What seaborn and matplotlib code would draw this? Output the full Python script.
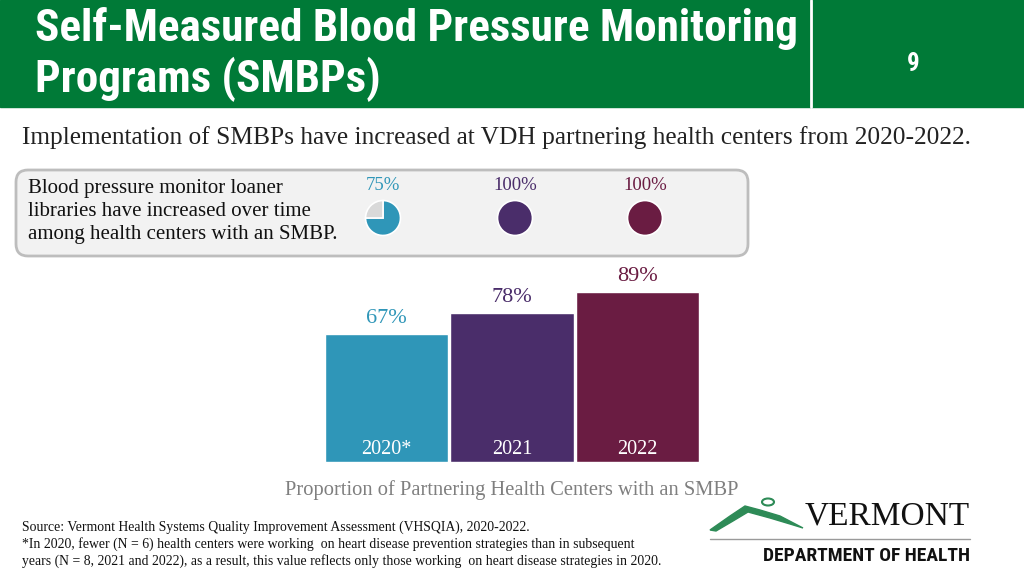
import matplotlib
matplotlib.use("Agg")
import matplotlib.pyplot as plt
from matplotlib import font_manager
from matplotlib.patches import FancyBboxPatch, Rectangle, Polygon, Ellipse
import seaborn as sns

# data
years = ["2020*", "2021", "2022"]
smbp_pct = [67, 78, 89]          # partnering health centers with an SMBP
loaner_pct = [75, 100, 100]      # loaner libraries among centers with SMBP
colors = ["#2f96b8", "#4a2d6a", "#6a1c42"]

title_lines = ["Self-Measured Blood Pressure Monitoring", "Programs (SMBPs)"]
subtitle = "Implementation of SMBPs have increased at VDH partnering health centers from 2020-2022."
box_text = ["Blood pressure monitor loaner", "libraries have increased over time",
            "among health centers with an SMBP."]
caption = "Proportion of Partnering Health Centers with an SMBP"
notes = ["Source: Vermont Health Systems Quality Improvement Assessment (VHSQIA), 2020-2022.",
         "*In 2020, fewer (N = 6) health centers were working  on heart disease prevention strategies than in subsequent",
         "years (N = 8, 2021 and 2022), as a result, this value reflects only those working  on heart disease strategies in 2020."]

sns.set_theme(style="white")
plt.rcParams["font.family"] = ["Liberation Serif", "DejaVu Serif"]
green = "#007a37"


def narrow_bold():
    # look for a condensed bold sans on the machine, else fall back to Roboto
    prefs = ["robotocondensed", "dejavusanscondensed", "liberationsansnarrow"]
    files = [f.fname for f in font_manager.fontManager.ttflist]
    for p in prefs:
        for fn in files:
            low = fn.lower().replace("-", "").replace("_", "")
            if p in low and "bold" in low and "italic" not in low and "oblique" not in low:
                return font_manager.FontProperties(fname=fn), True
    return font_manager.FontProperties(family="Roboto", weight="bold"), False


title_fp, is_narrow = narrow_bold()
title_size = 32.5 if is_narrow else 26

fig = plt.figure(figsize=(10.24, 5.76), dpi=100)
fig.patch.set_facecolor("white")

# page layer in pixel coordinates
bg = fig.add_axes([0, 0, 1, 1])
bg.set_xlim(0, 1024)
bg.set_ylim(576, 0)
bg.axis("off")

bg.add_patch(Rectangle((0, 0), 1024, 107, color=green))
bg.plot([811, 811], [0, 107], color="white", lw=2)
for i, line in enumerate(title_lines):
    bg.text(35, 29 + i * 50, line, color="white", fontproperties=title_fp,
            fontsize=title_size, va="center")
bg.text(913, 64, "9", color="white", fontproperties=title_fp, fontsize=18,
        ha="center", va="center")

bg.text(22, 138, subtitle, fontsize=18.3, color="#222222", va="center")

bg.add_patch(FancyBboxPatch((16, 170), 732, 86, boxstyle="round,pad=0,rounding_size=12",
                            fc="#f2f2f2", ec="#bdbdbd", lw=2))
for i, line in enumerate(box_text):
    bg.text(28, 189 + i * 23, line, fontsize=15, color="#111111", va="center")

# loaner library pies
pie_x = [383, 515, 645]
for cx, v, c in zip(pie_x, loaner_pct, colors):
    pax = fig.add_axes([(cx - 18) / 1024, (576 - 218 - 18) / 576, 36 / 1024, 36 / 576])
    vals = [x for x in (v, 100 - v) if x > 0]
    pax.pie(vals, colors=[c, "#d9d9d9"][:len(vals)], startangle=90, counterclock=False,
            wedgeprops=dict(edgecolor="white", linewidth=1.2))
    pax.set_xlim(-1.03, 1.03)
    pax.set_ylim(-1.03, 1.03)
    pax.set_aspect("auto")
    bg.text(cx, 185, f"{v}%", color=c, fontsize=13.5, ha="center", va="center")

# main bar chart
ax = fig.add_axes([324 / 1024, 114 / 576, 376 / 1024, 191 / 576])
sns.barplot(x=years, y=smbp_pct, hue=years, palette=colors, width=0.985, saturation=1,
            edgecolor="white", linewidth=1, legend=False, ax=ax)
ax.set_xlim(-0.5, 2.5)
ax.set_ylim(0, 100)
ax.axis("off")
for i, (y, v, c) in enumerate(zip(years, smbp_pct, colors)):
    ax.text(i, v + 8, f"{v}%", color=c, fontsize=16, ha="center", va="center", clip_on=False)
    ax.text(i, 6.5, y, color="white", fontsize=14.5, ha="center", va="center")

bg.text(512, 490, caption, fontsize=14.8, color="#7f7f7f", ha="center", va="center")
for i, line in enumerate(notes):
    bg.text(22, 527 + i * 17, line, fontsize=9.9, color="#111111", va="center")

# Vermont Department of Health logo
bg.add_patch(Polygon([(710, 530), (730, 516), (745, 506), (760, 510), (780, 516),
                      (803, 528), (790, 524), (770, 518), (748, 512), (733, 521), (716, 531)],
                     closed=True, color="#2e8b57"))
bg.add_patch(Ellipse((768, 502), 12, 7, fill=False, ec="#2e8b57", lw=1.5))
bg.text(970, 516, "VERMONT", fontsize=24, color="#111111", ha="right", va="center")
bg.plot([710, 970], [539, 539], color="#9a9a9a", lw=1)
bg.text(970, 556, "DEPARTMENT OF HEALTH", fontproperties=title_fp,
        fontsize=14 if is_narrow else 12, color="#111111", ha="right", va="center")

fig.savefig("out.png", dpi=100, facecolor="white")
